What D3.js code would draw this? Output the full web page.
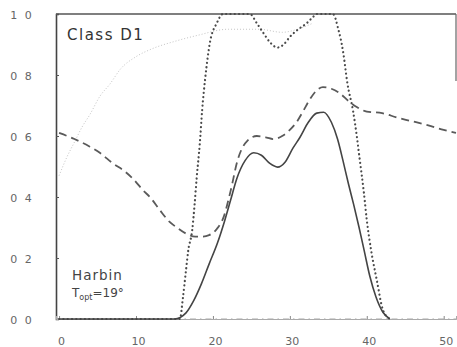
<!DOCTYPE html>
<html>
<head>
<meta charset="utf-8">
<script src="https://cdn.jsdelivr.net/npm/d3@7"></script>
<style>
  html, body { margin: 0; padding: 0; background: #fff; }
  svg { display: block; }
  text { font-family: "DejaVu Sans", sans-serif; }
</style>
</head>
<body>
<svg id="chart" width="457" height="347"></svg>
<script>
// Relative rate vs temperature (°C), class D1, Harbin
const xTicks = [0, 10, 20, 30, 40, 50];
const yTicks = [0, 0.2, 0.4, 0.6, 0.8, 1.0];
const yTickLabels = ["0 0", "0 2", "0 4", "0 6", "0 8", "1 0"];

// solid curve
const solidT = [0, 15, 16.5, 17.5, 18.5, 19.5, 20.6, 21.5, 22.3, 23.1, 24.2, 25.3, 26.3, 27.4, 28.4, 29.4, 30.4, 31.3, 32.4, 33.5, 34.4, 35.4, 36.2, 36.9, 37.6, 38.3, 39.0, 39.7, 40.4, 41.2, 42.1, 43];
const solidV = [0, 0, 0.02, 0.06, 0.115, 0.18, 0.25, 0.32, 0.39, 0.46, 0.52, 0.545, 0.537, 0.51, 0.498, 0.515, 0.56, 0.595, 0.645, 0.675, 0.678, 0.645, 0.59, 0.52, 0.445, 0.375, 0.30, 0.22, 0.14, 0.072, 0.022, 0];

// dashed curve
const dashedT = [0, 2, 4, 5.3, 7, 8.5, 9.6, 11, 11.8, 13.1, 14.3, 15.3, 16.5, 17.7, 18.6, 19.5, 20.5, 21.4, 22.3, 23.2, 24.5, 25.7, 27, 27.8, 29, 30, 31, 31.7, 32.6, 33.5, 34.3, 35.4, 36.5, 37.6, 38.7, 40, 42, 44, 45.6, 48, 50, 51.6];
const dashedV = [0.61, 0.59, 0.565, 0.545, 0.51, 0.485, 0.46, 0.42, 0.40, 0.357, 0.32, 0.30, 0.28, 0.27, 0.27, 0.275, 0.295, 0.335, 0.42, 0.52, 0.585, 0.60, 0.595, 0.59, 0.60, 0.62, 0.65, 0.68, 0.72, 0.75, 0.76, 0.755, 0.74, 0.715, 0.695, 0.68, 0.675, 0.66, 0.65, 0.635, 0.62, 0.61];

// coarse dotted curve
const dottedT = [0, 15.7, 16.1, 16.5, 16.8, 17.3, 17.6, 17.9, 18.3, 18.6, 19, 19.6, 20.5, 21.3, 22.5, 24.8, 25.7, 26.5, 27.5, 28.4, 29.2, 30, 31.1, 32.2, 33, 33.5, 35.6, 36.3, 36.9, 37.5, 38.2, 38.7, 39.1, 39.6, 40, 40.6, 41.3, 42.1, 43];
const dottedV = [0, 0, 0.07, 0.16, 0.226, 0.29, 0.37, 0.466, 0.577, 0.685, 0.79, 0.905, 0.97, 1.0, 1.0, 1.0, 0.97, 0.94, 0.905, 0.89, 0.9, 0.925, 0.95, 0.97, 0.99, 1.0, 1.0, 0.95, 0.88, 0.77, 0.685, 0.6, 0.52, 0.42, 0.325, 0.22, 0.128, 0.03, 0];

// faint fine-dotted curve
const faintT = [0, 1, 2, 3, 4, 5.3, 6.6, 8, 10, 12, 15, 18, 22, 26, 29, 31, 33];
const faintV = [0.47, 0.53, 0.58, 0.63, 0.67, 0.73, 0.77, 0.82, 0.86, 0.885, 0.91, 0.93, 0.95, 0.95, 0.94, 0.95, 0.97];

// faint dash-dot curve along zero
const zeroT = [15, 52];
const zeroV = [0, 0];

const svg = d3.select("#chart");
const x = d3.scaleLinear().domain([-0.4, 51.6]).range([56, 456]);
const y = d3.scaleLinear().domain([0, 1]).range([319, 14]);

const zip = (t, v) => t.map((d, i) => [d, v[i]]);
const line = d3.line().x(d => x(d[0])).y(d => y(d[1])).curve(d3.curveMonotoneX);

// frame: top border and partial right border
svg.append("line").attr("x1", 56).attr("x2", 456).attr("y1", 14).attr("y2", 14)
  .attr("stroke", "#555").attr("stroke-width", 1.6);
svg.append("line").attr("x1", 456).attr("x2", 456).attr("y1", 14).attr("y2", y(0.78))
  .attr("stroke", "#666").attr("stroke-width", 1.2);

// left axis
const yAxis = d3.axisLeft(y).tickValues(yTicks).tickSize(-3)
  .tickFormat((d, i) => yTickLabels[i]);
const gy = svg.append("g").attr("transform", "translate(56,0)").call(yAxis);
gy.select(".domain").attr("stroke", "#444").attr("stroke-width", 1.6);
gy.selectAll(".tick line").attr("stroke", "#555");
gy.selectAll(".tick text")
  .attr("x", -34).attr("text-anchor", "middle")
  .attr("fill", "#666").style("font-size", "11px").style("letter-spacing", "2px")
  .attr("dy", "0.45em");

// bottom axis
const xAxis = d3.axisBottom(x).tickValues(xTicks).tickSize(-3).tickPadding(18);
const gx = svg.append("g").attr("transform", "translate(0,319)").call(xAxis);
gx.select(".domain").attr("stroke", "#aaa").attr("stroke-width", 1);
gx.selectAll(".tick line").attr("stroke", "#888");
gx.selectAll(".tick text").attr("fill", "#666").style("font-size", "11px")
  .attr("dx", "2");

// curves
svg.append("path").datum(zip(zeroT, zeroV)).attr("d", line)
  .attr("fill", "none").attr("stroke", "#aaa").attr("stroke-width", 1.2)
  .attr("stroke-dasharray", "6,4,1.5,4");

svg.append("path").datum(zip(faintT, faintV)).attr("d", line)
  .attr("fill", "none").attr("stroke", "#c4c4c4").attr("stroke-width", 1)
  .attr("stroke-dasharray", "1,2");

svg.append("path").datum(zip(dashedT, dashedV)).attr("d", line)
  .attr("fill", "none").attr("stroke", "#5a5a5a").attr("stroke-width", 1.8)
  .attr("stroke-dasharray", "8,5");

svg.append("path").datum(zip(dottedT, dottedV)).attr("d", line)
  .attr("fill", "none").attr("stroke", "#4a4a4a").attr("stroke-width", 2.2)
  .attr("stroke-linecap", "round").attr("stroke-dasharray", "0.1,4.2");

svg.append("path").datum(zip(solidT, solidV)).attr("d", line)
  .attr("fill", "none").attr("stroke", "#444").attr("stroke-width", 1.6);

// annotations
svg.append("text").attr("x", 67).attr("y", 40).text("Class D1")
  .attr("fill", "#333").style("font-size", "15px").style("letter-spacing", "1.5px");

svg.append("text").attr("x", 72).attr("y", 280).text("Harbin")
  .attr("fill", "#444").style("font-size", "13.5px").style("letter-spacing", "1px");

const t = svg.append("text").attr("x", 72).attr("y", 297)
  .attr("fill", "#444").style("font-size", "12px");
t.append("tspan").text("T");
t.append("tspan").attr("dy", 3).style("font-size", "8px").text("opt");
t.append("tspan").attr("dy", -3).text("=19°");
</script>
</body>
</html>
